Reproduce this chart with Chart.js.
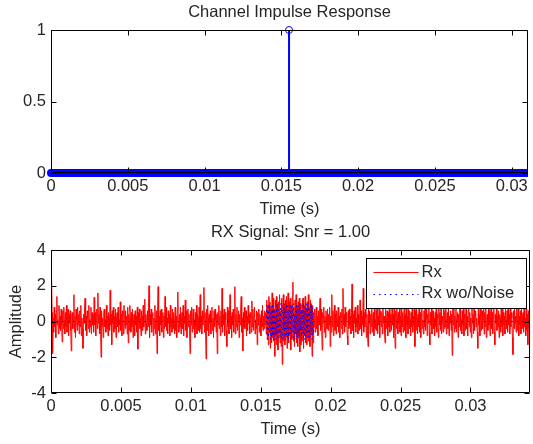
<!DOCTYPE html>
<html>
<head>
<meta charset="utf-8">
<script src="https://cdn.jsdelivr.net/npm/chart.js@4.4.1/dist/chart.umd.min.js"></script>
<style>
  html, body { margin: 0; padding: 0; background: #fff; }
  .box { position: absolute; left: 0; width: 533px; }
  #top { top: 0; height: 220px; }
  #bot { top: 220px; height: 224px; }
</style>
</head>
<body>
<div class="box" id="top"><canvas id="chartTop"></canvas></div>
<div class="box" id="bot"><canvas id="chartBot"></canvas></div>
<script>
// channel impulse response
var hEnd = 0.03106;              // last tap time (s)
var impulseTimes = [0.0155];
var impulseValues = [1];

// received signal (red)
var rxEnd = 0.03426;
var rxValues = [
  0.3,2.4,0.5,-1.8,0.2,-0.6,0.8,-0.3,0.4,-0.9,0.6,1.4,-0.2,0.1,-0.7,0.9,-0.4,0.3,-0.5,0.7,
  -0.2,-1.15,0.6,-0.4,0.8,0.1,-0.7,0.5,-0.3,0.9,-0.6,0.2,0.7,-0.8,0.4,-0.1,0.6,-0.5,-1.65,0.3,
  0.5,-0.4,0.2,1.5,-0.6,0.3,-0.9,0.7,0.1,-0.5,0.8,-0.2,0.4,-0.7,0.6,-0.3,0.9,-0.8,0.2,-0.4,
  -1.5,0.4,-0.1,0.7,1.3,-0.5,0.3,-0.8,0.6,0.2,-0.4,0.9,-0.6,0.1,-0.3,0.8,-0.7,0.5,-0.2,0.4,
  -0.6,1.35,-0.2,0.5,-0.8,0.3,0.7,-0.4,1.6,-0.1,0.4,-0.7,0.8,-0.5,-2.0,0.6,-0.3,0.2,-0.9,0.5,
  0.7,-0.3,0.1,-0.6,0.9,-0.4,0.3,-0.8,0.5,0.2,-0.5,1.75,-0.2,0.4,-1.3,0.6,-0.1,0.8,-0.6,0.3,
  -0.4,0.7,-0.9,0.2,0.5,-0.3,0.8,-0.6,0.1,-0.2,1.1,-0.5,0.4,-0.8,0.6,0.3,-0.7,0.9,-0.1,-0.4,
  0.6,-0.2,0.3,-0.7,0.8,-1.2,0.4,-0.5,0.9,0.2,-0.6,0.5,-0.3,0.7,-0.9,0.1,0.4,-0.8,0.6,-0.2,
  0.3,-0.6,0.8,-1.55,0.5,-0.1,0.7,-0.4,0.2,-0.8,0.6,0.3,-0.5,0.9,-0.3,0.1,1.25,-0.7,0.4,-0.2,
  -0.5,0.6,-0.3,0.8,2.0,-0.9,0.4,-0.2,0.7,-0.6,0.3,0.5,-0.8,0.2,-0.4,0.9,-0.7,0.1,0.6,-1.8,
  0.4,1.95,-0.5,0.3,-0.8,0.6,-0.2,0.7,-0.6,0.1,0.5,-0.9,0.3,-0.4,1.4,-0.3,0.8,-0.5,0.2,-0.7,
  0.6,-0.1,0.4,-0.8,0.9,-0.3,0.2,-0.6,0.7,-0.4,0.5,0.1,-0.7,0.8,-0.5,0.3,-0.9,0.6,1.65,-0.2,
  -0.6,0.4,-0.3,0.8,-0.7,0.2,0.5,-0.4,0.9,-0.8,0.3,-0.1,1.2,-0.5,0.6,-0.9,0.2,0.7,-0.3,0.4,
  -0.5,-1.8,0.6,-0.2,0.8,-0.6,0.3,0.7,-0.4,0.1,-0.9,0.5,-0.3,0.9,-0.7,0.4,0.2,-0.5,0.8,-0.6,
  1.5,-0.4,0.3,-0.7,0.6,-0.2,0.4,1.9,-0.6,0.5,-0.3,-2.1,0.7,-0.5,0.9,0.2,-0.8,0.4,-0.1,0.6,
  -0.7,0.3,0.8,-0.5,0.2,-0.9,0.6,-0.3,0.7,0.1,-0.6,0.4,-1.8,0.5,-0.2,0.9,-0.4,0.3,-0.8,0.6,
  -0.3,1.85,-0.6,0.4,-0.2,0.7,-0.8,0.5,0.1,-0.5,-1.4,0.8,-0.3,0.6,-0.7,0.2,1.5,-0.4,0.3,-0.9,
  0.5,-0.2,0.7,-0.6,0.3,1.95,-0.7,0.4,-0.3,0.8,-0.5,0.1,0.6,-0.9,0.4,-0.2,0.7,1.4,-0.6,0.2,
  -1.65,0.5,-0.3,0.8,-0.4,0.2,0.6,-0.8,0.3,-0.5,0.9,-0.1,0.4,-0.7,0.5,0.2,-0.6,1.15,-0.3,0.7,
  -0.5,0.3,0.8,-0.7,0.1,-0.4,0.6,-1.3,0.5,-0.2,0.7,-0.6,0.4,0.2,-0.8,0.6,-0.3,0.9,-0.5,0.3,
  -0.4,0.6,-0.2,0.5,-0.7,1.2,-1.0,0.9,-1.3,1.4,-0.6,1.1,-1.5,0.8,-1.2,1.6,-0.9,1.3,-1.1,0.7,
  -1.95,1.2,-0.8,1.4,-1.3,0.9,-1.6,1.1,-0.7,1.5,-1.2,0.6,-1.4,1.3,-2.4,0.8,1.5,-1.1,1.0,-1.3,
  1.2,-0.9,1.4,-1.5,0.7,1.6,-1.2,1.1,-0.8,1.3,-1.6,0.9,-1.0,1.4,2.2,-1.1,0.8,-1.4,1.2,-0.7,
  1.5,-1.2,0.9,-1.4,1.1,-0.8,1.3,-1.7,1.0,-1.3,0.6,-1.1,1.2,1.3,-1.5,0.9,-0.8,1.4,-1.2,0.7,
  -1.3,1.1,-0.9,1.5,-1.1,0.8,-1.4,1.2,-0.6,1.0,-1.95,0.9,-1.2,0.5,-0.3,0.7,-0.6,0.2,0.8,-0.4,
  0.3,-0.8,0.6,-0.2,0.4,1.3,-0.5,0.7,-0.3,-1.6,0.5,-0.1,0.8,-0.6,0.3,-0.9,0.6,0.2,-0.4,0.7,
  -0.5,0.4,-0.2,0.8,-1.4,0.3,-0.6,1.5,-0.3,0.6,-0.8,0.2,0.9,-0.5,0.4,-0.7,0.6,0.1,-0.3,0.8,
  -0.6,0.3,-0.9,0.5,0.2,-0.4,0.7,-0.7,1.85,-0.2,0.4,-0.6,0.8,-0.3,0.5,0.1,-0.8,-1.3,0.6,-0.4,
  0.7,-0.2,0.3,-0.7,0.5,2.1,-0.5,0.4,-0.9,0.6,-0.1,0.8,-0.6,0.2,-0.3,0.9,-0.7,0.4,0.1,-0.5,
  1.2,-0.4,0.6,-0.8,0.3,-0.2,1.85,-0.6,0.5,-0.3,0.7,0.2,-0.9,0.4,-0.5,-1.4,0.8,-0.1,0.6,-0.7,
  0.4,-0.3,0.9,-0.6,0.2,0.5,-0.8,0.7,-0.4,0.1,-0.5,0.6,1.6,-0.7,0.3,-0.2,0.8,-0.9,0.4,0.6,
  -0.3,0.5,-0.7,0.8,-0.1,0.3,-0.6,-1.2,0.9,-0.4,0.2,0.6,-0.8,0.5,-0.3,1.1,-0.6,0.4,0.1,-0.5,
  0.7,-0.2,0.4,-0.9,1.3,-0.3,-1.5,0.6,-0.4,0.8,0.2,-0.7,0.5,-0.1,0.9,-0.6,0.3,-0.8,1.4,-0.3,
  0.5,-0.6,0.2,0.8,-0.5,0.4,-0.9,0.7,-0.2,0.3,-0.7,1.2,-0.4,0.6,0.1,-0.8,0.5,-0.3,0.9,-0.6,
  0.3,-0.2,0.7,-1.4,0.6,-0.5,0.9,0.2,-0.7,0.4,-0.3,1.5,-0.6,0.5,-0.9,0.3,0.8,-0.4,0.1,-0.7,
  0.6,-0.3,0.9,-0.5,0.2,0.7,-0.8,0.4,-0.1,1.3,-0.6,-1.3,0.5,-0.2,0.8,-0.7,0.3,0.6,-0.4,0.2,
  -0.8,0.5,-0.3,1.1,-0.6,0.4,0.2,-0.9,0.7,-0.2,0.5,-0.5,0.9,-0.7,0.3,0.1,-0.6,1.4,-0.4,0.6,
  -0.3,0.8,-0.7,0.2,0.5,-0.4,0.9,-0.8,0.3,-0.1,0.6,-0.5,0.4,-1.9,0.7,-0.2,1.2,-0.6,0.3,-0.4,
  0.8,-0.6,0.2,0.5,-0.9,0.4,-0.3,0.7,1.3,-0.5,0.1,-0.7,0.6,-0.2,0.9,-0.8,0.4,0.2,-0.5,0.7,
  -0.4,0.3,-0.8,0.6,1.0,-0.3,0.5,-0.6,0.2,-0.9,0.8,-0.1,0.4,-0.7,1.5,-0.5,0.3,0.6,-0.3,0.2,
  -0.6,-1.5,0.7,-0.2,0.4,-0.8,0.9,0.3,-0.5,0.6,-0.4,0.1,1.2,-0.7,0.5,-0.3,0.8,-0.9,0.2,0.4,
  -0.5,0.7,-0.2,0.6,-0.8,0.3,1.1,-0.4,0.5,-0.7,0.2,0.9,-0.6,-1.3,0.4,-0.1,0.8,-0.5,0.3,-0.3,
  0.6,-0.9,0.4,0.2,-0.6,1.4,-0.3,0.7,-0.8,0.5,-0.2,0.3,-0.7,0.9,0.1,-0.4,0.6,-0.6,1.0,-0.2,
  0.4,-0.7,0.8,-0.3,0.5,0.2,-0.9,-1.85,0.6,-0.4,0.7,-0.1,0.3,-0.6,1.2,-0.5,0.4,0.8,-0.8,0.3,
  -0.2,0.6,-0.7,0.9,-0.4,0.3,0.5,-0.6,1.3,-0.3,0.2,-0.8,0.7,-0.5,0.4,-1.3,0.6,-0.4,0.5,1.0
];

// noise free burst (blue), zero outside
var cleanStartIdx = 404;
var cleanValues = [
  0,
  0.9,-1.0,0.8,-0.9,1.0,-0.6,0.9,-1.0,0.5,-0.9,1.0,-0.8,0.9,-1.0,0.7,-0.9,0.3,-1.0,0.9,-0.7,
  1.0,-0.9,0.8,-1.0,0.6,-0.8,1.0,-0.9,0.9,-1.0,0.8,-0.5,1.0,-0.9,0.7,-1.0,0.9,-0.8,1.0,-0.9,
  0.6,-1.0,0.9,-0.8,1.0,-0.7,0.8,-1.0,0.9,-0.6,1.0,-0.9,0.4,-1.0,0.8,-0.9,1.0,-0.8,0.7,-1.0,
  0.9,-0.9,1.0,-0.5,0.8,-1.0,0.9,-0.7,1.0,-0.9,0.6,-1.0,0.8,-0.8,1.0,-0.9,0.9,-0.6,1.0,-1.0,
  0.7,-0.9,1.0,-0.8,0.9,-1.0,0.8,-0.7,
  0
];

var topXTicks = [0, 0.005, 0.01, 0.015, 0.02, 0.025, 0.03];
var topXLabels = ['0', '0.005', '0.01', '0.015', '0.02', '0.025', '0.03'];
var topYTicks = [0, 0.5, 1];
var topYLabels = ['0', '0.5', '1'];
var botXTicks = [0, 0.005, 0.01, 0.015, 0.02, 0.025, 0.03];
var botXLabels = ['0', '0.005', '0.01', '0.015', '0.02', '0.025', '0.03'];
var botYTicks = [-4, -2, 0, 2, 4];
var botYLabels = ['-4', '-2', '0', '2', '4'];

var txt = '#262626';
var fnt = { family: '"Liberation Sans", Arial, sans-serif', size: 16.5, weight: 'normal' };

var rxStep = rxEnd / (rxValues.length - 1);
var rxData = rxValues.map(function (v, i) { return { x: i * rxStep, y: v }; });
var cleanData = [{ x: 0, y: 0 }];
cleanValues.forEach(function (v, k) { cleanData.push({ x: (cleanStartIdx + k) * rxStep, y: v }); });
cleanData.push({ x: rxEnd, y: 0 });

// box + inward tick marks, matlab style
var framePlugin = {
  id: 'frame',
  afterDatasetsDraw: function (chart) {
    var ctx = chart.ctx, a = chart.chartArea, sx = chart.scales.x, sy = chart.scales.y;
    var L = Math.round(a.left) + 0.5, R = Math.round(a.right) - 0.5;
    var T = Math.round(a.top) + 0.5, B = Math.round(a.bottom) - 0.5;
    ctx.save();
    ctx.strokeStyle = '#000';
    ctx.lineWidth = 1;
    ctx.beginPath();
    ctx.rect(L, T, R - L, B - T);
    sx.ticks.forEach(function (t) {
      var p = Math.round(sx.getPixelForValue(t.value)) + 0.5;
      ctx.moveTo(p, B); ctx.lineTo(p, B - 5);
      ctx.moveTo(p, T); ctx.lineTo(p, T + 5);
    });
    sy.ticks.forEach(function (t) {
      var p = Math.round(sy.getPixelForValue(t.value)) + 0.5;
      ctx.moveTo(L, p); ctx.lineTo(L + 5, p);
      ctx.moveTo(R, p); ctx.lineTo(R - 5, p);
    });
    ctx.stroke();
    ctx.restore();
  }
};

// title centred over the axes, not the canvas
var axTitle = {
  id: 'axTitle',
  afterDraw: function (chart, args, opts) {
    var ctx = chart.ctx, a = chart.chartArea;
    ctx.save();
    ctx.fillStyle = txt;
    ctx.font = fnt.size + 'px ' + fnt.family;
    ctx.textAlign = 'center';
    ctx.textBaseline = 'middle';
    ctx.fillText(opts.text, (a.left + a.right) / 2, 12.3);
    ctx.restore();
  }
};

var boxLegend = {
  id: 'boxLegend',
  afterDraw: function (chart) {
    var ctx = chart.ctx, a = chart.chartArea;
    var w = 160, h = 50;
    var x0 = Math.round(a.right) - 4 - w + 0.5, y0 = Math.round(a.top) + 8 + 0.5;
    ctx.save();
    ctx.fillStyle = '#fff';
    ctx.fillRect(x0, y0, w, h);
    ctx.strokeStyle = '#000';
    ctx.lineWidth = 1;
    ctx.strokeRect(x0, y0, w, h);
    var rowY = [y0 + 13.5, y0 + 35];
    var sets = chart.data.datasets.filter(function (d) { return d.label; });
    sets.forEach(function (d, i) {
      ctx.beginPath();
      ctx.strokeStyle = d.borderColor;
      ctx.lineWidth = d.borderWidth;
      ctx.setLineDash(d.borderDash || []);
      ctx.moveTo(x0 + 7, Math.round(rowY[i]) + 0.5);
      ctx.lineTo(x0 + 52, Math.round(rowY[i]) + 0.5);
      ctx.stroke();
      ctx.setLineDash([]);
      ctx.fillStyle = txt;
      ctx.font = fnt.size + 'px ' + fnt.family;
      ctx.textBaseline = 'middle';
      ctx.textAlign = 'left';
      ctx.fillText(d.label, x0 + 55, rowY[i]);
    });
    ctx.restore();
  }
};

function fixedTicks(values) {
  return function (s) { s.ticks = values.map(function (v) { return { value: v }; }); };
}

function axes(xmax, xt, xl, ymin, ymax, yt, yl, yTitle, xHeight) {
  return {
    x: {
      type: 'linear', min: 0, max: xmax,
      grid: { display: false, drawTicks: false }, border: { display: false },
      afterBuildTicks: fixedTicks(xt),
      afterFit: function (s) { s.height = xHeight; },
      ticks: { color: txt, font: fnt, padding: 4, maxRotation: 0, autoSkip: false,
               callback: function (v, i) { return xl[i]; } },
      title: { display: true, text: 'Time (s)', color: txt, font: fnt,
               padding: { top: 0, bottom: xHeight - 47 + 0.8 } }
    },
    y: {
      type: 'linear', min: ymin, max: ymax,
      grid: { display: false, drawTicks: false }, border: { display: false },
      afterBuildTicks: fixedTicks(yt),
      afterFit: function (s) { s.width = 51; },
      ticks: { color: txt, font: fnt, padding: 5, callback: function (v, i) { return yl[i]; } },
      title: { display: !!yTitle, text: yTitle || '', color: txt, font: fnt,
               padding: { top: 6.8, bottom: 0 } }
    }
  };
}

var topSets = [
  { data: [{ x: 0, y: 0 }, { x: hEnd, y: 0 }], borderColor: '#0000ff', borderWidth: 8,
    borderCapStyle: 'round', pointRadius: 0, order: 3, clip: { left: 6, right: 0, top: 6, bottom: 6 } },
  { data: [{ x: 0, y: 0 }, { x: hEnd, y: 0 }], borderColor: '#000', borderWidth: 1,
    pointRadius: 0, order: 2 }
];
impulseTimes.forEach(function (t, i) {
  topSets.push({
    data: [{ x: t, y: 0 }, { x: t, y: impulseValues[i] }],
    borderColor: '#0000ff', borderWidth: 2, pointRadius: [0, 3.5],
    pointBorderColor: '#0000ff', pointBackgroundColor: 'rgba(0,0,0,0)', pointBorderWidth: 1,
    order: 1, clip: 6
  });
});

new Chart(document.getElementById('chartTop'), {
  type: 'line',
  data: { datasets: topSets },
  options: {
    responsive: true, maintainAspectRatio: false, animation: false,
    layout: { padding: { left: 0, right: 3, top: 30, bottom: 0 } },
    plugins: { legend: { display: false }, tooltip: { enabled: false },
               axTitle: { text: 'Channel Impulse Response' } },
    scales: axes(hEnd, topXTicks, topXLabels, 0, 1, topYTicks, topYLabels, '', 47)
  },
  plugins: [framePlugin, axTitle]
});

new Chart(document.getElementById('chartBot'), {
  type: 'line',
  data: {
    datasets: [
      { label: 'Rx', data: rxData, borderColor: '#ff0000', borderWidth: 1,
        pointRadius: 0, order: 2 },
      { label: 'Rx wo/Noise', data: cleanData, borderColor: '#0000ff', borderWidth: 1,
        borderDash: [1.5, 4], pointRadius: 0, order: 1 }
    ]
  },
  options: {
    responsive: true, maintainAspectRatio: false, animation: false,
    layout: { padding: { left: 0, right: 3, top: 30, bottom: 0 } },
    plugins: { legend: { display: false }, tooltip: { enabled: false },
               axTitle: { text: 'RX Signal: Snr = 1.00' } },
    scales: axes(rxEnd, botXTicks, botXLabels, -4, 4, botYTicks, botYLabels, 'Amplitude', 51)
  },
  plugins: [framePlugin, axTitle, boxLegend]
});
</script>
</body>
</html>
